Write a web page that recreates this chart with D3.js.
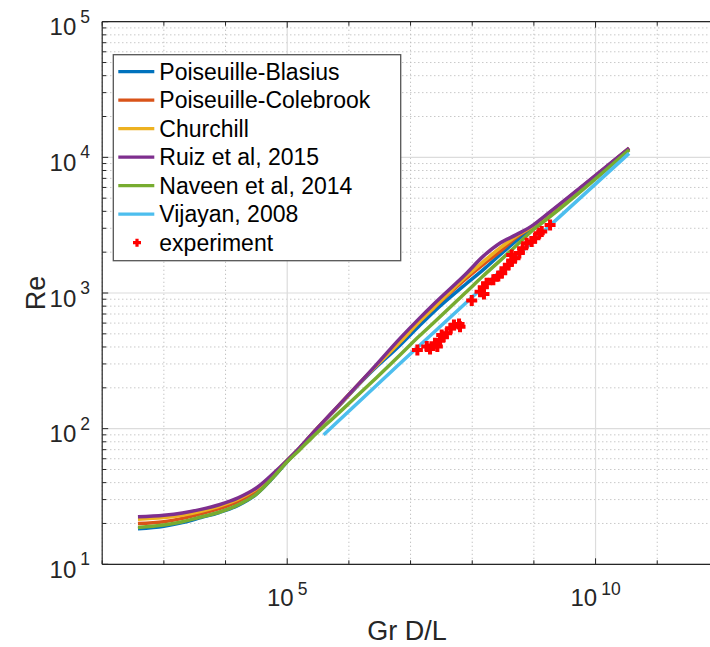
<!DOCTYPE html>
<html>
<head>
<meta charset="utf-8">
<script src="https://cdn.jsdelivr.net/npm/d3@7"></script>
<style>
  html, body { margin: 0; padding: 0; background: #fff; }
  svg { display: block; font-family: "Liberation Sans", Arial, Helvetica, sans-serif; }
</style>
</head>
<body>
<svg id="chart" width="710" height="647"></svg>
<script>
// ---------- data ----------
const grDL = [3.8e2, 1.0e3, 2.0e3, 4.0e3, 7.9e3, 1.6e4, 3.2e4, 6.3e4, 1.0e5, 1.6e5, 2.5e5, 5.6e5, 2.2e6, 6.8e6, 1.4e7, 2.3e7, 8.1e7, 1.5e8, 2.8e8, 5.2e8, 9.7e8, 1.3e9, 3.5e10];
const blasius   = [18.3, 19.1, 20.3, 22.1, 24.1, 27.2, 33.0, 45.0, 57.3, 71.4, 90.2, 133, 257, 414, 575, 716, 1175, 1479, 1905, 2427, 3090, 3428, 11530];
const colebrook = [20.0, 20.6, 21.8, 23.6, 25.7, 29.1, 35.1, 46.8, 58.0, 71.9, 90.8, 134, 261, 437, 617, 767, 1288, 1622, 2018, 2570, 3126, 3467, 11640];
const churchill = [21.5, 22.1, 23.0, 24.6, 26.8, 30.2, 36.1, 47.3, 58.3, 72.1, 90.8, 134, 261, 437, 617, 767, 1334, 1698, 2138, 2630, 3126, 3467, 11640];
const ruiz      = [22.4, 23.0, 23.9, 25.4, 27.5, 30.9, 36.7, 47.9, 58.6, 72.8, 91.2, 135, 263, 465, 653, 817, 1400, 1862, 2328, 2692, 3162, 3508, 11700];
const naveen    = [18.7, 19.5, 20.6, 22.3, 24.2, 27.4, 33.1, 45.2, 57.0, 70.0, 85.5, 120, 214, 351, 484, 596, 1023, 1334, 1726, 2239, 2924, 3236, 11350];
const vijayanX  = [3.9e5, 6.8e6, 2.3e9, 3.5e10];
const vijayan   = [90, 303, 3459, 10700];

const expX = [1.29e7, 1.83e7, 2.07e7, 2.72e7, 3.01e7, 3.20e7, 3.85e7, 4.48e7, 5.06e7, 6.11e7, 6.34e7, 3.40e7, 2.49e7,
              9.82e7, 1.34e8, 1.51e8, 1.55e8, 1.71e8, 2.20e8, 2.65e8, 3.01e8, 3.40e8, 3.85e8, 4.37e8, 4.37e8, 4.94e8, 5.81e8, 6.58e8, 7.64e8, 9.20e8, 1.04e9, 1.22e9, 1.34e9, 1.83e9];
const expY = [380, 403, 387, 403, 451, 491, 506, 550, 582, 592, 565, 472, 427,
              879, 1023, 1104, 984, 1180, 1250, 1337, 1400, 1524, 1611, 1734, 1910, 1807, 1968, 2138, 2328, 2393, 2535, 2761, 2838, 3177];

const seriesNames = ["Poiseuille-Blasius", "Poiseuille-Colebrook", "Churchill", "Ruiz et al, 2015", "Naveen et al, 2014", "Vijayan, 2008"];
const seriesColors = ["#0072BD", "#D95319", "#EDB120", "#7E2F8E", "#77AC30", "#4DBEEE"];
const expName = "experiment";
const xLabel = "Gr D/L";
const yLabel = "Re";
const xMajor = [1e5, 1e10];
const xMajorExp = ["5", "10"];
const yMajor = [1e1, 1e2, 1e3, 1e4, 1e5];
const yMajorExp = ["1", "2", "3", "4", "5"];

// ---------- layout ----------
const svg = d3.select("#chart");
const L = 102.2, R = 718.9, T = 21.7, B = 564.3;
const x = d3.scaleLog().domain([1e2, 1e12]).range([L, R]);
const y = d3.scaleLog().domain([1e1, 1e5]).range([B, T]);
const axisColor = "#262626";

// grid
const xMinor = d3.range(2, 13).map(e => Math.pow(10, e)).filter(v => !xMajor.includes(v));
const yMinor = [];
for (let e = 1; e < 5; e++) for (let m = 2; m <= 9; m++) yMinor.push(m * Math.pow(10, e));

const grid = svg.append("g");
grid.selectAll(".gxm").data(xMinor).join("line")
  .attr("x1", d => x(d)).attr("x2", d => x(d)).attr("y1", T).attr("y2", B)
  .attr("stroke", "#bcbcbc").attr("stroke-width", 1).attr("stroke-dasharray", "1.2,2.8");
grid.selectAll(".gym").data(yMinor).join("line")
  .attr("x1", L).attr("x2", R).attr("y1", d => y(d)).attr("y2", d => y(d))
  .attr("stroke", "#bcbcbc").attr("stroke-width", 1).attr("stroke-dasharray", "1.2,2.8");
grid.selectAll(".gxM").data(xMajor).join("line")
  .attr("x1", d => x(d)).attr("x2", d => x(d)).attr("y1", T).attr("y2", B)
  .attr("stroke", "#dcdcdc").attr("stroke-width", 1.2);
grid.selectAll(".gyM").data(yMajor).join("line")
  .attr("x1", L).attr("x2", R).attr("y1", d => y(d)).attr("y2", d => y(d))
  .attr("stroke", "#dcdcdc").attr("stroke-width", 1.2);

// lines
const line = d3.line().x(d => x(d[0])).y(d => y(d[1])).curve(d3.curveMonotoneX);
const allSeries = [blasius, colebrook, churchill, ruiz, naveen];
const plotG = svg.append("g");
allSeries.forEach((s, i) => {
  plotG.append("path").datum(grDL.map((g, j) => [g, s[j]]))
    .attr("d", line).attr("fill", "none")
    .attr("stroke", seriesColors[i]).attr("stroke-width", 3.5).attr("stroke-linejoin", "round");
});
plotG.append("path").datum(vijayanX.map((g, j) => [g, vijayan[j]]))
  .attr("d", line).attr("fill", "none")
  .attr("stroke", seriesColors[5]).attr("stroke-width", 3.5);

// experiment markers
const plus = (cx, cy, s) => `M${cx - s},${cy}H${cx + s}M${cx},${cy - s}V${cy + s}`;
plotG.selectAll(".exp").data(expX.map((g, j) => [g, expY[j]])).join("path")
  .attr("d", d => plus(x(d[0]), y(d[1]), 5.5))
  .attr("stroke", "#FF0000").attr("stroke-width", 4).attr("fill", "none");

// axes
const ax = svg.append("g");
ax.append("line").attr("x1", L).attr("x2", L).attr("y1", T).attr("y2", B).attr("stroke", axisColor).attr("stroke-width", 1.2);
ax.append("line").attr("x1", L).attr("x2", R).attr("y1", B).attr("y2", B).attr("stroke", axisColor).attr("stroke-width", 1.2);
ax.append("line").attr("x1", L).attr("x2", R).attr("y1", T).attr("y2", T).attr("stroke", axisColor).attr("stroke-width", 1.2);

// y ticks
const yAll = yMajor.map(v => [v, 6]).concat(yMinor.map(v => [v, 4]));
ax.selectAll(".yt").data(yAll).join("line")
  .attr("x1", L).attr("x2", d => L + d[1]).attr("y1", d => y(d[0])).attr("y2", d => y(d[0]))
  .attr("stroke", axisColor).attr("stroke-width", 1);
// x ticks (bottom and top)
const xAll = xMajor.map(v => [v, 6]).concat(xMinor.map(v => [v, 4]));
ax.selectAll(".xtb").data(xAll).join("line")
  .attr("x1", d => x(d[0])).attr("x2", d => x(d[0])).attr("y1", B).attr("y2", d => B - d[1])
  .attr("stroke", axisColor).attr("stroke-width", 1);
ax.selectAll(".xtt").data(xAll).join("line")
  .attr("x1", d => x(d[0])).attr("x2", d => x(d[0])).attr("y1", T).attr("y2", d => T + d[1])
  .attr("stroke", axisColor).attr("stroke-width", 1);

// tick labels
yMajor.forEach((v, i) => {
  const t = ax.append("text").attr("x", 90).attr("y", y(v) + 13.5)
    .attr("text-anchor", "end").attr("fill", axisColor).attr("font-size", 24);
  t.append("tspan").text("10");
  t.append("tspan").attr("dx", 4).attr("dy", -12.5).attr("font-size", 17.5).text(yMajorExp[i]);
});
xMajor.forEach((v, i) => {
  const t = ax.append("text").attr("x", x(v)).attr("y", 606)
    .attr("text-anchor", "middle").attr("fill", axisColor).attr("font-size", 24);
  t.append("tspan").text("10");
  t.append("tspan").attr("dx", 4).attr("dy", -11.5).attr("font-size", 17.5).text(xMajorExp[i]);
});

// axis titles
svg.append("text").attr("x", 407).attr("y", 640).attr("text-anchor", "middle")
  .attr("fill", axisColor).attr("font-size", 27).text(xLabel);
svg.append("text").attr("transform", `translate(45,${(T + B) / 2}) rotate(-90)`)
  .attr("text-anchor", "middle").attr("fill", axisColor).attr("font-size", 27).text(yLabel);

// legend
const lg = svg.append("g");
lg.append("rect").attr("x", 113.3).attr("y", 54.7).attr("width", 287.4).attr("height", 206)
  .attr("fill", "#fff").attr("stroke", "#555").attr("stroke-width", 1.3);
const rowY = i => 71.7 + i * 28.5;
seriesNames.forEach((n, i) => {
  lg.append("line").attr("x1", 118.3).attr("x2", 154.3).attr("y1", rowY(i)).attr("y2", rowY(i))
    .attr("stroke", seriesColors[i]).attr("stroke-width", 3.2);
  lg.append("text").attr("x", 159.3).attr("y", rowY(i) + 8).attr("font-size", 23).attr("fill", "#000").text(n);
});
lg.append("path").attr("d", plus(137, rowY(6), 4)).attr("stroke", "#FF0000").attr("stroke-width", 3.2);
lg.append("text").attr("x", 159.3).attr("y", rowY(6) + 8).attr("font-size", 23).attr("fill", "#000").text(expName);
</script>
</body>
</html>
